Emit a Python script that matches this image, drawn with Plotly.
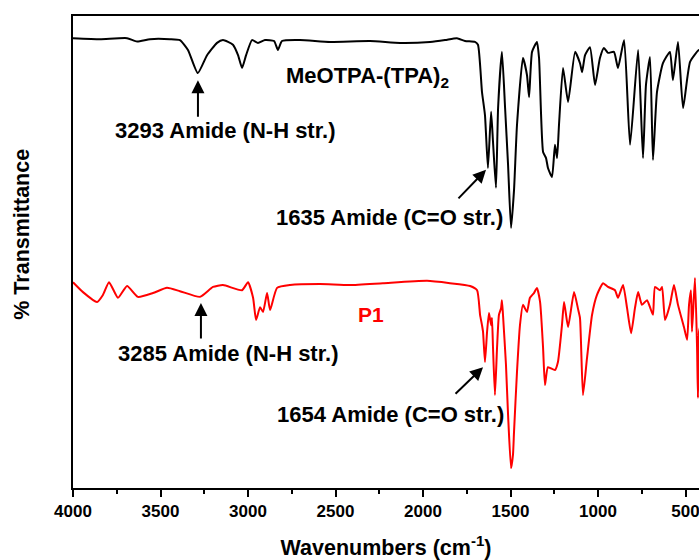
import plotly.graph_objects as go

# MeOTPA-(TPA)2 spectrum (wavenumber cm-1, % transmittance, arbitrary offset)
meotpa_wn = [4000, 3846, 3691, 3634, 3560, 3446, 3389, 3343, 3287, 3234, 3177, 3143, 3086, 3057,
             3034, 3011, 2977, 2943, 2903, 2851, 2829, 2806, 2703, 2531, 2303, 2131, 1960, 1874,
             1806, 1760, 1703, 1686, 1663, 1646, 1629, 1611, 1600, 1583, 1571, 1549, 1531, 1514,
             1497, 1480, 1463, 1429, 1406, 1394, 1377, 1349, 1337, 1314, 1297, 1286, 1263, 1246,
             1234, 1223, 1200, 1171, 1131, 1103, 1091, 1074, 1046, 1017, 989, 966, 943, 909, 886,
             851, 817, 771, 743, 726, 703, 686, 663, 629, 589, 572, 543, 514, 474, 423, 410]
meotpa_t = [95.3, 95.1, 95.3, 94.6, 95.1, 95.1, 94.9, 92.8, 87.9, 91.7, 94.3, 94.9, 93.9, 91.7,
            89.0, 91.7, 94.9, 94.3, 94.9, 94.7, 92.8, 94.7, 94.9, 94.5, 94.7, 94.3, 94.5, 94.9,
            95.3, 94.7, 94.5, 93.9, 83.9, 79.0, 67.8, 79.7, 73.3, 63.6, 80.5, 92.4, 80.5, 68.4,
            55.1, 63.1, 76.9, 91.1, 87.5, 82.8, 92.4, 94.5, 91.1, 71.2, 69.9, 67.8, 65.9, 72.7,
            69.9, 76.9, 89.0, 81.8, 92.4, 90.0, 88.1, 91.7, 93.4, 85.4, 91.1, 93.2, 92.2, 92.4, 89.0,
            94.9, 72.7, 92.8, 69.9, 85.4, 91.3, 69.5, 83.9, 90.0, 92.4, 86.4, 94.5, 80.5, 90.3, 92.8, 92.0]

# P1 spectrum
p1_wn = [4000, 3943, 3863, 3829, 3794, 3743, 3691, 3629, 3543, 3463, 3389, 3274, 3200, 3143,
         3034, 3000, 2971, 2954, 2931, 2914, 2891, 2874, 2834, 2760, 2589, 2417, 2229, 1977,
         1846, 1731, 1691, 1674, 1663, 1657, 1646, 1634, 1623, 1611, 1606, 1600, 1589, 1577,
         1566, 1554, 1549, 1543, 1526, 1514, 1497, 1486, 1480, 1463, 1446, 1429, 1406, 1389,
         1366, 1349, 1331, 1314, 1303, 1286, 1246, 1229, 1206, 1194, 1171, 1137, 1114, 1103,
         1086, 1063, 1034, 1006, 971, 943, 903, 886, 857, 834, 811, 789, 771, 749, 720, 703,
         686, 674, 646, 634, 617, 589, 566, 543, 509, 491, 480, 469, 463, 446, 434, 429, 423, 410]
p1_t = [43.6, 41.5, 39.4, 40.9, 43.6, 40.3, 42.8, 40.5, 41.3, 42.4, 41.7, 40.5, 42.6, 43.0,
        41.9, 43.6, 40.3, 35.6, 38.3, 37.3, 41.3, 37.7, 42.4, 43.0, 43.2, 43.0, 43.4, 43.9,
        43.4, 42.8, 41.9, 36.7, 34.5, 33.1, 26.7, 33.1, 37.1, 34.5, 36.0, 29.7, 19.7, 29.7,
        36.7, 38.1, 39.8, 36.7, 26.1, 15.5, 4.2, 7.0, 11.9, 24.6, 34.5, 38.8, 37.3, 40.3,
        41.3, 42.4, 39.4, 29.7, 21.8, 25.6, 25.0, 26.7, 34.5, 39.4, 34.1, 41.5, 37.9, 36.0,
        19.7, 27.5, 36.7, 40.9, 43.4, 42.6, 41.9, 40.3, 43.0, 38.1, 32.8, 38.1, 41.5, 38.8, 39.8, 38.3,
        36.7, 42.6, 41.9, 42.6, 35.6, 38.8, 43.0, 38.8, 34.1, 31.4, 38.8, 41.9, 33.1, 44.5, 29.7, 19.1, 33.1, 35.0]

x_ticks = [4000, 3500, 3000, 2500, 2000, 1500, 1000, 500]
x_minor = [3750, 3250, 2750, 2250, 1750, 1250, 750]

FONT = "Liberation Sans, Arial, sans-serif"

fig = go.Figure()
fig.add_trace(go.Scatter(x=meotpa_wn, y=meotpa_t, mode="lines",
                         line=dict(color="black", width=2, shape="spline", smoothing=0.5),
                         showlegend=False))
fig.add_trace(go.Scatter(x=p1_wn, y=p1_t, mode="lines",
                         line=dict(color="#ff0000", width=2, shape="spline", smoothing=0.5),
                         showlegend=False))

def label(x, y, text, color="black", size=22):
    fig.add_annotation(x=x, y=y, text=text, showarrow=False,
                       font=dict(family=FONT, size=size, color=color, weight="bold"))

def arrow(x, y, ax, ay):
    fig.add_annotation(x=x, y=y, text="", showarrow=True, ax=ax, ay=ay,
                       arrowhead=2, arrowsize=1.3, arrowwidth=2, arrowcolor="black")

label(2320, 87.0, "MeOTPA-(TPA)<sub>2</sub>")
label(3131, 75.8, "3293 Amide (N-H str.)")
label(2189, 57.4, "1635 Amide (C=O str.)")
label(2297, 36.7, "P1", color="#ff0000", size=21)
label(3114, 28.6, "3285 Amide (N-H str.)")
label(2183, 15.5, "1654 Amide (C=O str.)")

arrow(3286, 86.4, 0, 38)
arrow(1640, 67.4, -29, 30)
arrow(3269, 39.2, 0, 37)
arrow(1657, 25.6, -29, 28)

# y-axis title
fig.add_annotation(xref="paper", yref="paper", x=-0.082, y=0.538, xanchor="center", yanchor="middle",
                   text="% Transmittance", textangle=-90, showarrow=False,
                   font=dict(family=FONT, size=21.5, color="black", weight="bold"))

fig.update_layout(
    width=699, height=560,
    margin=dict(l=73, r=0, t=16, b=72),
    paper_bgcolor="white", plot_bgcolor="white",
    font=dict(family=FONT, color="black"),
    xaxis=dict(range=[4000, 423], showline=True, linewidth=2, linecolor="black", mirror=True,
               ticks="outside", ticklen=7, tickwidth=2, tickcolor="black",
               tickvals=x_ticks, tickfont=dict(family=FONT, size=17, color="black", weight="bold"),
               ticklabeloverflow="allow",
               minor=dict(tickvals=x_minor, ticks="outside",
                          ticklen=4, tickwidth=2, tickcolor="black"),
               showgrid=False, zeroline=False,
               title=dict(text="Wavenumbers (cm<sup>-1</sup>)", standoff=20,
                          font=dict(family=FONT, size=21.5, color="black", weight="bold"))),
    yaxis=dict(range=[0, 100], showline=True, linewidth=2, linecolor="black",
               showticklabels=False, ticks="", showgrid=False, zeroline=False),
)

fig.write_html("out.html", config={"displayModeBar": False},
               post_script="document.body.style.margin='0';document.body.style.overflow='hidden';")
